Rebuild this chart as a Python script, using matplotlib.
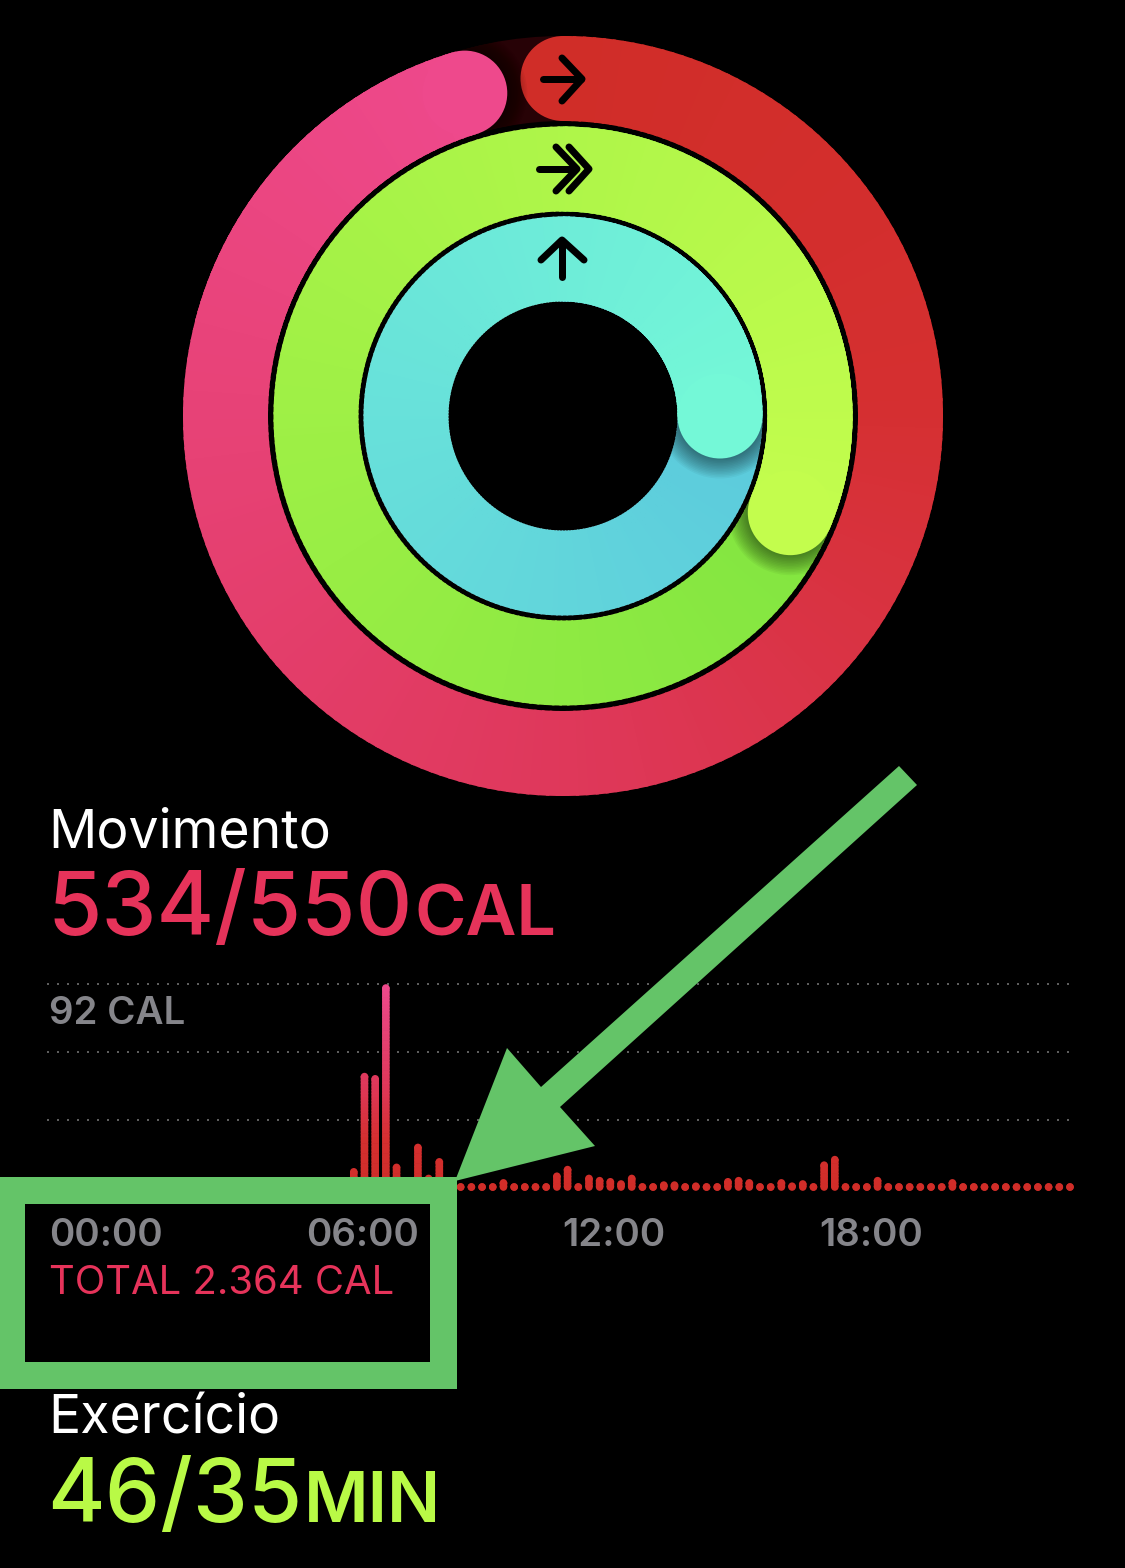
import matplotlib
matplotlib.use('Agg')
import matplotlib.pyplot as plt
import numpy as np
from matplotlib.patches import Wedge, Circle, Polygon, Rectangle
from matplotlib.collections import LineCollection

# ring progress (1.0 = one full turn), outer to inner
ring_names = ['move', 'exercise', 'stand']
ring_progress = [0.953, 1.314, 1.25]

# calories per 15 minute bin, 96 bins
calories = [2] * 28 + [9, 52, 51, 92, 11, 2, 20, 6, 13.5, 2,
                       2, 2, 2, 2, 4, 2, 2, 2, 2, 7, 10, 2, 6, 5, 4.5, 3.5, 6, 2, 1.5, 3, 3, 2, 2.5, 2, 2,
                       4.5, 5, 4, 2, 2, 4, 2.5, 3.5, 2, 12, 14.5, 2, 2, 2, 5, 2, 2, 2, 2, 2, 2, 4,
                       2, 2, 2, 2, 2, 2, 2, 2, 2, 2, 2]
bin_hours = np.arange(96) * 0.25
grid_levels = [92, 61.33, 30.67]

tick_labels = ['00:00', '06:00', '12:00', '18:00']
title_move = 'Movimento'
value_move = '534/550'
unit_move = 'CAL'
max_label = '92 CAL'
total_label = 'TOTAL 2.364 CAL'
title_ex = 'Exercício'
value_ex = '46/35'
unit_ex = 'MIN'

# colour stops along each ring
red_stops = ([0, 0.25, 0.5, 0.75, 0.9, 1],
             [(208, 45, 40), (213, 47, 48), (222, 55, 88), (230, 65, 115), (235, 70, 130), (238, 73, 140)])
green_stops = ([0, 1], [(110, 222, 60), (195, 253, 77)])
blue_stops = ([0, 1], [(85, 190, 222), (116, 248, 215)])

RED_TXT = '#e6335a'
LIME_TXT = '#b9fa46'
GRAY_TXT = '#85858a'
ARROW_GREEN = '#64c468'
FONT = 'Inter'


def px(v):
    return v * 0.72


def stop_color(stops, f):
    pos, cols = stops
    cols = np.array(cols) / 255.0
    return tuple(np.interp(f, pos, cols[:, i]) for i in range(3))


fig = plt.figure(figsize=(11.25, 15.68), dpi=100, facecolor='black')
ax = fig.add_axes([0, 0, 1, 1])
ax.set_xlim(0, 1125)
ax.set_ylim(1568, 0)
ax.axis('off')

cx, cy = 563, 416
outer = [380, 289.5, 199.5]
width = 85


def draw_ring(r_out, progress, stops):
    cap_r = width / 2
    r_mid = r_out - cap_r
    sweep = progress * 360
    # dark track
    ax.add_patch(Wedge((cx, cy), r_out, 0, 360, width=width, fc='#270206', ec='none', zorder=1))
    # start cap
    ax.add_patch(Circle((cx, cy - r_mid), cap_r, fc=stop_color(stops, 0), ec='none', zorder=2))
    steps = int(sweep / 1.5)
    angles = np.linspace(0, sweep, steps + 1)
    for a0, a1 in zip(angles[:-1], angles[1:]):
        ax.add_patch(Wedge((cx, cy), r_out, a0 - 90, a1 - 90 + 0.5, width=width,
                           fc=stop_color(stops, a0 / sweep), ec='none', zorder=2))
    # soft shadow just past the end cap
    th = np.radians(sweep - 90)
    ex, ey = cx + r_mid * np.cos(th), cy + r_mid * np.sin(th)
    clip = Wedge((cx, cy), r_out, 0, 360, width=width, transform=ax.transData)
    for r in np.linspace(cap_r + 20, cap_r, 14):
        c = Circle((ex, ey), r, fc='black', alpha=0.04, ec='none', zorder=3)
        ax.add_patch(c)
        c.set_clip_path(clip)
    # last stretch goes back over the shadow, then the cap
    for a0, a1 in zip(angles[:-1], angles[1:]):
        if a0 > sweep - 60:
            ax.add_patch(Wedge((cx, cy), r_out, a0 - 90, min(a1 + 0.5, sweep) - 90, width=width,
                               fc=stop_color(stops, a0 / sweep), ec='none', zorder=4))
    ax.add_patch(Circle((ex, ey), cap_r, fc=stop_color(stops, 1), ec='none', zorder=4))


draw_ring(outer[0], ring_progress[0], red_stops)
draw_ring(outer[1], ring_progress[1], green_stops)
draw_ring(outer[2], ring_progress[2], blue_stops)

# ring icons
icon_lines = [
    [(543, 79), (581, 79)], [(562, 58), (582, 79), (562, 101)],
    [(539, 169), (574, 169)], [(556, 147), (577, 169), (556, 191)], [(569, 147), (589, 169), (569, 191)],
    [(562, 277), (562, 241)], [(541, 260), (562, 240), (584, 260)],
]
for pts in icon_lines:
    xs, ys = zip(*pts)
    ax.plot(xs, ys, color='black', lw=px(7), solid_capstyle='round', solid_joinstyle='round', zorder=6)

# activity bars, real scale: hours and calories
ax_bars = fig.add_axes([47 / 1125, 1 - 1195 / 1568, 1030 / 1125, 220 / 1568])
ax_bars.set_xlim(-0.175, 23.914)
ax_bars.set_ylim(-3.16, 96.2)
ax_bars.axis('off')
ax_bars.patch.set_alpha(0)
ax_bars.hlines(grid_levels, -0.175, 23.75, color='#5e5e5e', lw=px(2), linestyles=[(0, (1, 4))])

segs, cols = [], []
top_y, top_col, bot_col = [], [], []
bottom = 0.45
for h, v in zip(bin_hours, calories):
    top = max(v - 1.69, bottom)
    top_y.append(top)
    top_col.append(stop_color(red_stops, top / 92))
    bot_col.append(stop_color(red_stops, bottom / 92))
    if top > bottom:
        edges = np.append(np.arange(bottom, top, 1.5), top)
        for y0, y1 in zip(edges[:-1], edges[1:]):
            segs.append([(h, y0), (h, y1 + 0.3)])
            cols.append(stop_color(red_stops, y1 / 92))
lines = LineCollection(segs, colors=cols, linewidths=px(7.6), capstyle='butt')
lines.set_snap(False)
ax_bars.add_collection(lines)
dot_size = px(7.6) ** 2
ax_bars.scatter(bin_hours, [bottom] * len(bin_hours), s=dot_size, c=bot_col, linewidths=0, zorder=3)
ax_bars.scatter(bin_hours, top_y, s=dot_size, c=top_col, linewidths=0, zorder=3)

# text
ax_top = fig.add_axes([0, 0, 1, 1])
ax_top.set_xlim(0, 1125)
ax_top.set_ylim(1568, 0)
ax_top.axis('off')
ax_top.patch.set_alpha(0)

ax_top.text(48, 847, title_move, color='white', fontsize=px(53.5), family=FONT, va='baseline')
ax_top.text(47, 935, value_move, color=RED_TXT, fontsize=px(88), family=FONT, weight='medium', va='baseline')
ax_top.text(414, 935, unit_move, color=RED_TXT, fontsize=px(70), family=FONT, weight='semibold', va='baseline')
ax_top.text(49, 1024, max_label, color=GRAY_TXT, fontsize=px(38.5), family=FONT, weight='semibold', va='baseline')
for x, t in zip([49, 306, 562, 819], tick_labels):
    ax_top.text(x, 1246, t, color=GRAY_TXT, fontsize=px(38.5), family=FONT, weight='semibold', va='baseline')
ax_top.text(49, 1294, total_label, color=RED_TXT, fontsize=px(40), family=FONT, va='baseline')
ax_top.text(48, 1434, title_ex, color='white', fontsize=px(53.5), family=FONT, va='baseline')
ax_top.text(47, 1522, value_ex, color=LIME_TXT, fontsize=px(88), family=FONT, weight='medium', va='baseline')
ax_top.text(304, 1522, unit_ex, color=LIME_TXT, fontsize=px(70), family=FONT, weight='semibold', va='baseline')

# green annotation: arrow and frame
arrow = [(899, 766), (917, 785), (560, 1107), (595, 1146), (455, 1181), (507, 1048), (541, 1087)]
ax_top.add_patch(Polygon(arrow, closed=True, fc=ARROW_GREEN, ec='none'))
for rect in [(0, 1177, 457, 27), (0, 1362, 457, 27), (0, 1177, 25, 212), (430, 1177, 27, 212)]:
    ax_top.add_patch(Rectangle(rect[:2], rect[2], rect[3], fc=ARROW_GREEN, ec='none'))

fig.savefig('out.png', dpi=100, facecolor='black')
